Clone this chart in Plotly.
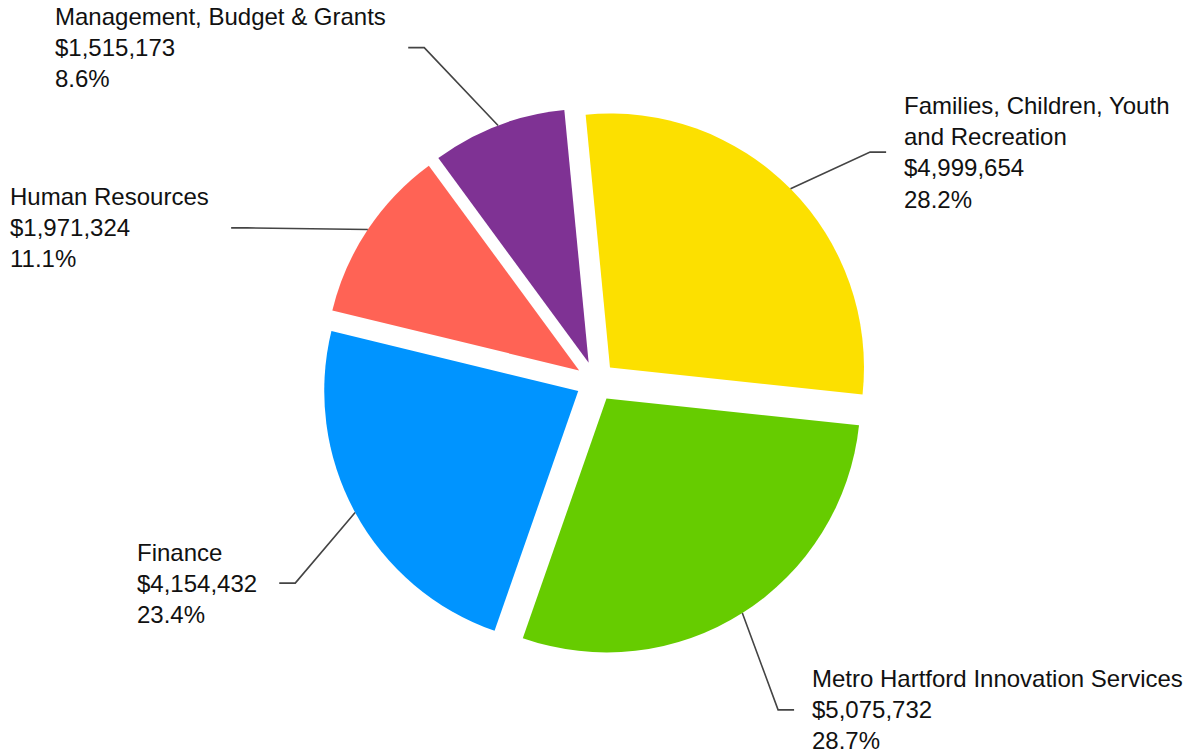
import textwrap
import numpy as np
import plotly.graph_objects as go

# ---- data ----
categories = [
    "Families, Children, Youth and Recreation",
    "Metro Hartford Innovation Services",
    "Finance",
    "Human Resources",
    "Management, Budget & Grants",
]
values = [4999654, 5075732, 4154432, 1971324, 1515173]
colors = ["#FCE000", "#66CC00", "#0094FF", "#FF6355", "#7F3294"]

# ---- layout / style parameters ----
W, H = 1193, 753
ROT = -5.5            # start angle (deg, clockwise from 12 o'clock)
PULL = 0.0787         # explode fraction of radius
DOM_X = [0.2697, 0.7291]
DOM_Y = [0.1295, 0.8572]
FONT = "Liberation Sans, Arial, sans-serif"
FONT_SIZE = 24
# label placement: (angle shift from slice middle in deg, elbow radius in px)
label_shift = [4.8, 3.3, -5.3, -9.9, -6.3]
label_radius = [357.6, 375.6, 361.9, 381.0, 375.4]
label_wrap = [25, 40, 40, 40, 40]
HSEG = 16      # horizontal connector segment
GAP_R, GAP_L = 16, 20

fig = go.Figure(go.Pie(
    labels=categories,
    values=values,
    sort=False,
    direction="clockwise",
    rotation=ROT,
    pull=[PULL] * len(values),
    marker=dict(colors=colors, line=dict(width=0)),
    textinfo="none",
    hoverinfo="label+value+percent",
    domain=dict(x=DOM_X, y=DOM_Y),
    showlegend=False,
))

# geometry (mirrors plotly's pie layout) to attach labels
cx = (DOM_X[0] + DOM_X[1]) / 2 * W
cy = (1 - (DOM_Y[0] + DOM_Y[1]) / 2) * H
r = min((DOM_X[1] - DOM_X[0]) * W, (DOM_Y[1] - DOM_Y[0]) * H) / 2 / (1 + PULL)

vals = np.array(values, dtype=float)
total = vals.sum()
frac = vals / total
ends = np.cumsum(frac) * 360 + ROT
starts = ends - frac * 360
mids = (starts + ends) / 2


def px2paper(x, y):
    return x / W, 1 - y / H


shapes = []
annotations = []
for i, name in enumerate(categories):
    m = np.radians(mids[i])
    ux, uy = np.sin(m), -np.cos(m)
    pcx, pcy = cx + PULL * r * ux, cy + PULL * r * uy
    sx, sy = pcx + r * ux, pcy + r * uy
    a = np.radians(mids[i] + label_shift[i])
    ex, ey = cx + label_radius[i] * np.sin(a), cy - label_radius[i] * np.cos(a)
    right = ex > cx
    tx = ex + HSEG if right else ex - HSEG
    p0, p1, p2 = px2paper(sx, sy), px2paper(ex, ey), px2paper(tx, ey)
    shapes.append(dict(
        type="path", xref="paper", yref="paper",
        path=f"M {p0[0]},{p0[1]} L {p1[0]},{p1[1]} L {p2[0]},{p2[1]}",
        line=dict(color="#444444", width=1.6),
    ))
    lines = textwrap.wrap(name, label_wrap[i]) + [f"${values[i]:,}", f"{frac[i]*100:.1f}%"]
    axp = px2paper(tx + GAP_R if right else tx - GAP_L, ey)
    annotations.append(dict(
        x=axp[0], y=axp[1], xref="paper", yref="paper",
        text="<br>".join(lines), showarrow=False,
        xanchor="left" if right else "right", yanchor="middle", align="left",
        font=dict(family=FONT, size=FONT_SIZE, color="#111111"),
    ))

fig.update_layout(
    width=W, height=H,
    margin=dict(l=0, r=0, t=0, b=0),
    paper_bgcolor="white", plot_bgcolor="white",
    shapes=shapes, annotations=annotations,
)
fig.write_html("out.html",
               config={"displayModeBar": False},
               post_script="document.body.style.margin='0px';document.body.style.overflow='hidden';")
